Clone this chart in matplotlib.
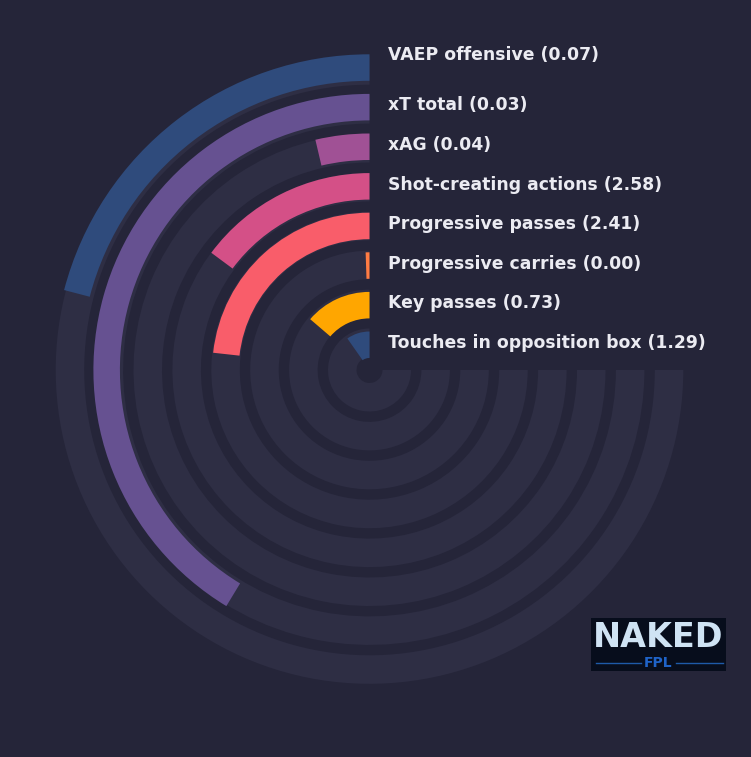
import numpy as np
import matplotlib.pyplot as plt
from matplotlib.transforms import offset_copy

# metrics, innermost ring first
metrics = ["Touches in opposition box", "Key passes", "Progressive carries",
           "Progressive passes", "Shot-creating actions", "xAG", "xT total",
           "VAEP offensive"]
values = [1.29, 0.73, 0.00, 2.41, 2.58, 0.04, 0.03, 0.07]
# share of the 270 degree track each bar fills
fill = [0.13, 0.183, 0.007, 0.31, 0.198, 0.049, 0.551, 0.279]
colors = ["#2f4b7c", "#ffa600", "#ff7c43", "#f95d6a", "#d45087", "#a05195",
          "#665191", "#2f4b7c"]

bg = "#252539"
track = "#2e2e44"
txt = "#ebebf2"

W, H = 751, 757
fig = plt.figure(figsize=(W / 100, H / 100), dpi=100, facecolor=bg)

cx, cy, R = 369.5, 370, 320
ax = fig.add_axes([(cx - R) / W, (H - cy - R) / H, 2 * R / W, 2 * R / H],
                  projection="polar")
ax.set_facecolor("none")
ax.set_theta_offset(np.pi / 2)
ax.set_theta_direction(1)
ax.set_ylim(0, R)
ax.axis("off")

sweep = 1.5 * np.pi
n = len(metrics)
track_bottom = 13 + 38.9 * np.arange(n)
bar_bottom = 12 + 39.6 * np.arange(n)

ax.bar(np.zeros(n), 28.5, width=sweep, bottom=track_bottom, align="edge",
       color=track, linewidth=0)
ax.bar(np.zeros(n), 26.5, width=np.array(fill) * sweep, bottom=bar_bottom,
       align="edge", color=colors, linewidth=0)

label_tr = offset_copy(ax.transData, fig=fig, x=19, y=0, units="dots")
label_r = bar_bottom + 15
label_r[-1] += 11
for m, v, r in zip(metrics, values, label_r):
    ax.text(0, r, f"{m} ({v:.2f})", transform=label_tr, ha="left", va="center",
            color=txt, fontsize=12.4, fontweight="bold")

# logo box
lx0, ly0, lx1, ly1 = 591, 618, 726, 671
lax = fig.add_axes([lx0 / W, (H - ly1) / H, (lx1 - lx0) / W, (ly1 - ly0) / H])
lax.set_facecolor("#070d1c")
lax.set_xticks([])
lax.set_yticks([])
for s in lax.spines.values():
    s.set_visible(False)
lax.set_xlim(0, 1)
lax.set_ylim(0, 1)
lax.text(0.5, 0.64, "NAKED", ha="center", va="center", color="#cfe3f4",
         fontsize=24, fontweight="bold")
lax.text(0.5, 0.15, "FPL", ha="center", va="center", color="#1f63c8",
         fontsize=10, fontweight="bold")
lax.plot([0.04, 0.37], [0.15, 0.15], color="#1e5aa8", lw=1)
lax.plot([0.63, 0.98], [0.15, 0.15], color="#1e5aa8", lw=1)

fig.savefig("out.png", dpi=100, facecolor=bg)
